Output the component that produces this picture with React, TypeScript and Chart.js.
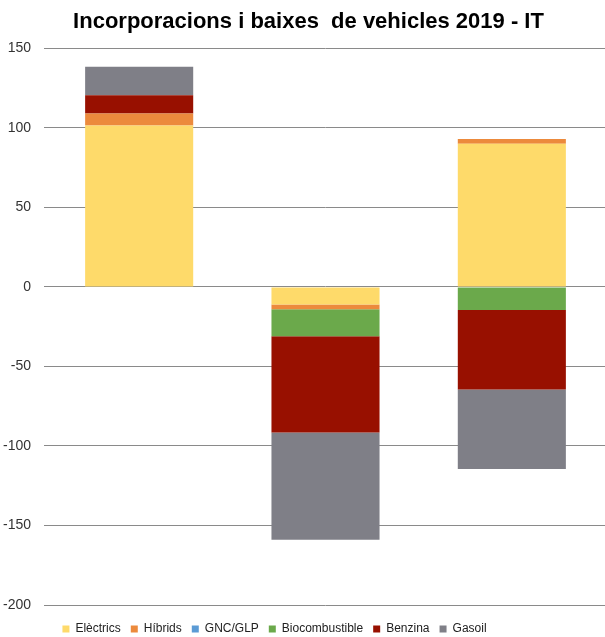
import React, { useEffect, useRef } from "react";
import { Chart, registerables } from "chart.js";

Chart.register(...registerables);

const categories = ["", " ", "  "];
const seriesNames = ["Elèctrics", "Híbrids", "GNC/GLP", "Biocombustible", "Benzina", "Gasoil"];
const electrics = [101.5, -11, 90];
const hibrids = [7.5, -3, 3];
const gncGlp = [0, 0, 0];
const biocombustible = [0, -17, -14.5];
const benzina = [11.5, -60.5, -50];
const gasoil = [18, -67.5, -50];
const seriesColors = ["#FEDA6A", "#EC8A3C", "#5B9BD5", "#6BA94B", "#981000", "#7F7F87"];
const yTicks = [150, 100, 50, 0, -50, -100, -150, -200];

const shiftLegend = {
  id: "shiftLegend",
  afterLayout(chart: any) {
    const lg = chart.legend;
    if (lg) {
      lg.left -= 28;
      lg.right -= 28;
      lg.top += 8;
      lg.bottom += 8;
    }
    const t = chart.titleBlock;
    if (t) {
      t.left += 6;
      t.right += 6;
    }
  },
};

export default function App() {
  const ref = useRef<HTMLCanvasElement | null>(null);
  useEffect(() => {
    if (!ref.current) return;
    const values = [electrics, hibrids, gncGlp, biocombustible, benzina, gasoil];
    const chart = new Chart(ref.current, {
      type: "bar",
      data: {
        labels: categories,
        datasets: seriesNames.map((name, i) => ({
          label: name,
          data: values[i],
          backgroundColor: seriesColors[i],
          borderWidth: 0,
          barPercentage: 0.58,
          categoryPercentage: 1,
        })),
      },
      plugins: [shiftLegend],
      options: {
        animation: false,
        responsive: false,
        maintainAspectRatio: false,
        layout: { padding: { left: 0, right: 0, top: 0, bottom: 0 } },
        plugins: {
          title: {
            display: true,
            text: "Incorporacions i baixes  de vehicles 2019 - IT",
            color: "#000",
            font: { family: "'Liberation Sans', Arial, sans-serif", size: 22, weight: "bold" },
            padding: { top: 9, bottom: 13 },
          },
          legend: {
            position: "bottom",
            labels: {
              boxWidth: 7,
              boxHeight: 7,
              padding: 10,
              color: "#222",
              font: { family: "'Liberation Sans', Arial, sans-serif", size: 12 },
            },
          },
          tooltip: { enabled: false },
        },
        scales: {
          x: {
            stacked: true,
            display: false,
          },
          y: {
            stacked: true,
            min: -200,
            max: 150,
            afterBuildTicks: (axis: any) => {
              axis.ticks = yTicks.map((v) => ({ value: v }));
            },
            afterFit: (axis: any) => {
              axis.width = 46;
            },
            ticks: {
              stepSize: 50,
              padding: 13,
              color: "#333",
              font: { family: "'Liberation Sans', Arial, sans-serif", size: 14 },
            },
            grid: {
              color: "#8a8a8a",
              lineWidth: 1,
              tickLength: 2,
              drawTicks: true,
            },
            border: { display: false },
          },
        },
      },
    });
    return () => chart.destroy();
  }, []);
  return (
    <div style={{ position: "fixed", left: 0, top: 0, width: 605, height: 637, background: "#fff" }}>
      <canvas ref={ref} width={605} height={637} style={{ width: 605, height: 637 }} />
    </div>
  );
}
